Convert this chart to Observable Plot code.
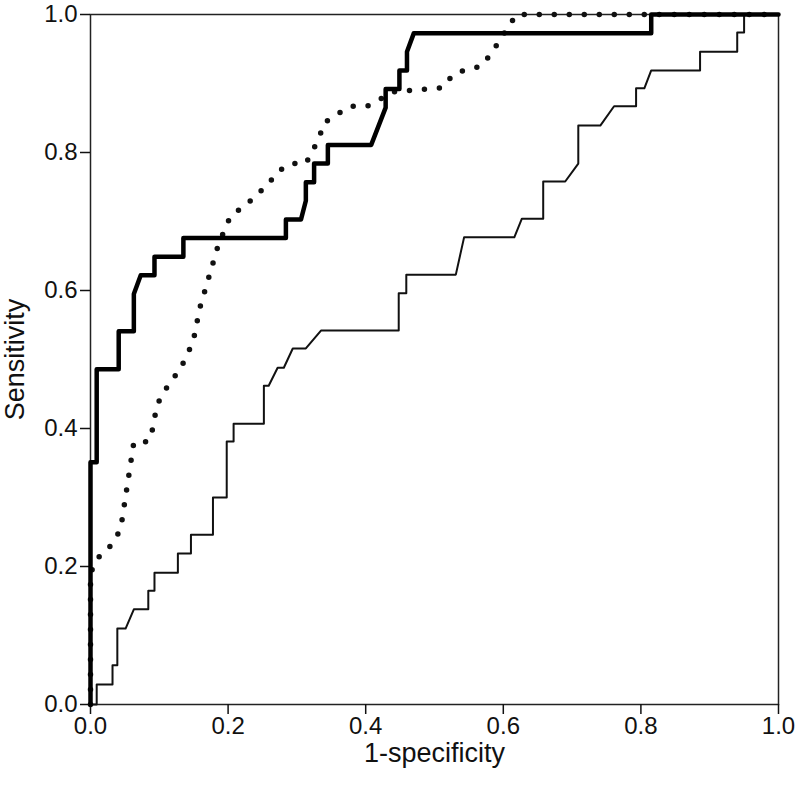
<!DOCTYPE html>
<html><head><meta charset="utf-8">
<script src="https://cdn.jsdelivr.net/npm/d3@7"></script>
<script src="https://cdn.jsdelivr.net/npm/@observablehq/plot@0.6"></script>
<style>
body{margin:0;background:#fff;} svg{display:block;}
#chart svg text{font-family:'Liberation Sans',Arial,Helvetica,sans-serif;font-size:24px;fill:#111;}
#chart svg g[aria-label="x-axis label"] text, #chart svg g[aria-label="y-axis label"] text{font-size:27px;}
</style>
</head><body><div id="chart"></div>
<script>
const ticks = [0, 0.2, 0.4, 0.6, 0.8, 1.0];
const xLabel = "1-specificity";
const yLabel = "Sensitivity";

const thickX = [0,0,0.009,0.009,0.041,0.041,0.063,0.063,0.073,0.093,0.093,0.135,0.135,0.284,0.284,0.306,0.313,0.313,0.325,0.325,0.345,0.345,0.408,0.429,0.429,0.449,0.449,0.46,0.46,0.47,0.815,0.815,1];
const thickY = [0,0.351,0.351,0.486,0.486,0.541,0.541,0.595,0.622,0.622,0.649,0.649,0.676,0.676,0.703,0.703,0.730,0.757,0.757,0.784,0.784,0.811,0.811,0.865,0.892,0.892,0.919,0.919,0.946,0.973,0.973,1,1];

const dotX = [0,0,0.010,0.023,0.038,0.045,0.063,0.084,0.092,0.095,0.103,0.130,0.141,0.150,0.159,0.186,0.204,0.224,0.258,0.272,0.290,0.313,0.333,0.338,0.358,0.377,0.402,0.441,0.512,0.527,0.546,0.568,0.582,0.608,0.619,1];
const dotY = [0,0.19,0.212,0.222,0.242,0.262,0.380,0.381,0.404,0.428,0.448,0.486,0.507,0.530,0.575,0.667,0.709,0.722,0.754,0.772,0.784,0.784,0.822,0.842,0.855,0.867,0.867,0.888,0.894,0.913,0.920,0.925,0.943,0.983,1,1];

const thinX = [0,0.009,0.009,0.032,0.032,0.039,0.039,0.051,0.063,0.084,0.084,0.093,0.093,0.127,0.127,0.146,0.146,0.178,0.178,0.198,0.198,0.208,0.208,0.252,0.252,0.259,0.272,0.281,0.294,0.313,0.335,0.448,0.448,0.459,0.459,0.531,0.543,0.616,0.627,0.658,0.658,0.690,0.709,0.709,0.741,0.761,0.793,0.793,0.805,0.815,0.886,0.886,0.940,0.940,0.950,0.950,1];
const thinY = [0,0,0.029,0.029,0.057,0.057,0.110,0.110,0.138,0.138,0.165,0.165,0.191,0.191,0.219,0.219,0.246,0.246,0.300,0.300,0.381,0.381,0.407,0.407,0.462,0.462,0.488,0.488,0.516,0.516,0.542,0.542,0.596,0.596,0.623,0.623,0.677,0.677,0.704,0.704,0.758,0.758,0.784,0.839,0.839,0.867,0.867,0.893,0.893,0.919,0.919,0.946,0.946,0.974,0.974,1,1];

const toPts = (xs, ys) => xs.map((x, i) => ({x, y: ys[i]}));
const thick = toPts(thickX, thickY);
const dotted = toPts(dotX, dotY);
const thin = toPts(thinX, thinY);

const chart = Plot.plot({
  width: 800,
  height: 792,
  marginLeft: 90,
  marginRight: 22,
  marginTop: 14,
  marginBottom: 88,
  style: {fontSize: "24px", color: "#111", background: "#fff"},
  x: {domain: [0, 1]},
  y: {domain: [0, 1]},
  marks: [
    Plot.frame({stroke: "#222", strokeWidth: 1.5}),
    Plot.axisX({ticks, tickFormat: d3.format(".1f"), tickSize: 10, tickPadding: 2,
      label: xLabel, labelAnchor: "center", labelArrow: "none", labelOffset: 57, strokeWidth: 1.5}),
    Plot.axisY({ticks, tickFormat: d3.format(".1f"), tickSize: 10, tickPadding: 3,
      label: yLabel, labelAnchor: "center", labelArrow: "none", labelOffset: 86, strokeWidth: 1.5}),
    Plot.line(thin, {x: "x", y: "y", stroke: "#111", strokeWidth: 2}),
    Plot.line(dotted, {x: "x", y: "y", stroke: "#111", strokeWidth: 5.5, strokeDasharray: "0 15", strokeLinecap: "round"}),
    Plot.line(thick, {x: "x", y: "y", stroke: "#000", strokeWidth: 4.5})
  ]
});
document.getElementById("chart").appendChild(chart);
</script>
</body></html>
